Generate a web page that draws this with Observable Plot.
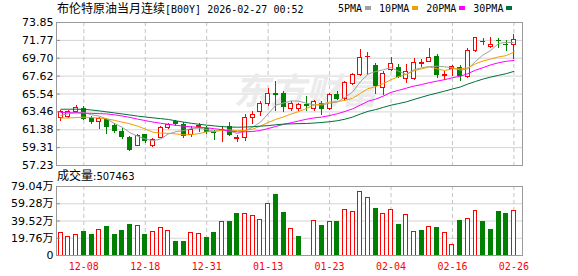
<!DOCTYPE html>
<html><head><meta charset="utf-8">
<script src="https://cdn.jsdelivr.net/npm/d3@7"></script>
<script src="https://cdn.jsdelivr.net/npm/@observablehq/plot@0.6"></script>
<style>
body{margin:0;background:#fff}
#wrap{position:relative;width:578px;height:276px;overflow:hidden;background:#fff;color:#000}
.abs{position:absolute;white-space:nowrap}
.sw{display:inline-block;width:6px;height:4px;margin-left:3px;margin-right:8px;vertical-align:2px}
</style></head>
<body>
<div id="wrap">
  <div id="price" class="abs" style="left:0;top:0"></div>
  <div id="vol" class="abs" style="left:0;top:170px"></div>
  <div class="abs" style="left:57px;top:0;line-height:15px;font-size:12px"><span style="font-family:'Noto Sans CJK SC'">布伦特原油当月连续</span><span style="font-family:'DejaVu Sans Mono';font-size:10px">[B00Y] 2026-02-27 00:52</span></div>
  <div id="legend" class="abs" style="left:338px;top:1px;line-height:16px;font-family:'DejaVu Sans Mono';font-size:10px"></div>
  <div class="abs" style="left:57px;top:167px;line-height:16px;font-size:12px"><span style="font-family:'Noto Sans CJK SC'">成交量</span><span style="font-family:'DejaVu Sans';font-size:10px">:507463</span></div>
</div>
<script>
const dates = ["12-03","12-04","12-05","12-08","12-09","12-10","12-11","12-12","12-15","12-16","12-17","12-18","12-19","12-22","12-23","12-24","12-26","12-29","12-30","12-31","01-02","01-05","01-06","01-07","01-08","01-09","01-12","01-13","01-14","01-15","01-16","01-19","01-20","01-21","01-22","01-23","01-26","01-27","01-28","01-29","01-30","02-02","02-03","02-04","02-05","02-06","02-09","02-10","02-11","02-12","02-13","02-16","02-17","02-18","02-19","02-20","02-23","02-24","02-25","02-26"];
const open  = [62.74,62.86,63.39,63.81,62.67,62.25,62.55,61.79,61.18,60.45,59.50,60.72,59.54,60.45,61.56,62.25,61.98,60.76,61.75,61.48,61.10,61.22,61.71,60.27,60.45,62.71,63.50,64.34,65.52,65.49,63.85,63.77,64.30,63.77,64.43,63.77,65.40,64.93,66.75,67.71,69.80,68.80,66.24,68.29,68.60,67.33,67.33,69.00,69.26,69.84,67.60,68.41,68.56,67.52,70.53,71.60,71.03,71.70,71.27,71.25];
const high  = [63.62,63.58,64.15,64.08,62.90,62.82,62.70,62.06,61.48,60.65,60.80,60.84,60.34,61.79,62.10,62.44,62.25,61.79,62.06,61.79,61.29,61.79,62.25,60.72,63.12,63.50,64.65,66.17,66.94,65.79,64.70,64.40,65.30,64.81,64.70,65.60,65.78,67.00,67.90,70.73,70.42,69.07,68.10,69.84,68.95,68.95,69.65,69.50,70.88,70.11,68.20,68.87,68.80,70.80,72.16,71.96,72.16,71.96,71.77,72.50];
const low   = [62.36,62.75,63.31,62.48,62.00,61.41,60.84,60.95,60.27,58.82,59.39,59.73,59.27,60.34,61.41,61.79,60.34,60.45,61.10,60.84,60.18,59.88,60.57,59.96,60.07,61.98,62.94,64.08,63.50,63.39,63.55,63.54,63.54,63.54,63.07,63.65,64.81,64.70,66.50,67.52,67.71,65.47,65.40,68.10,67.33,66.75,67.13,68.60,69.18,67.33,67.13,67.52,66.94,67.33,70.42,71.19,70.80,70.80,70.50,69.60];
const close = [63.39,63.43,63.89,62.67,62.25,62.67,61.67,61.29,60.53,59.04,60.65,60.07,60.19,61.60,61.94,62.06,60.65,61.41,61.83,61.10,61.02,61.41,60.72,60.45,62.75,63.12,64.38,65.49,65.45,64.00,64.40,64.23,64.20,64.62,63.85,65.47,64.93,66.86,67.79,69.76,69.88,66.48,67.90,69.07,67.52,68.10,69.18,69.10,69.76,67.71,67.75,68.68,67.64,70.50,72.08,71.54,71.27,71.65,71.20,71.85];
// volume in 万
const volume = [25.96,21.0,23.3,27.1,23.7,29.0,32.8,23.7,28.3,35.1,33.6,23.7,26.7,31.3,27.9,15.7,15.7,26.0,24.8,20.2,26.0,38.2,38.6,47.0,47.7,45.1,40.9,58.8,69.5,48.9,30.5,21.4,0,39.7,34.0,38.2,38.6,51.9,49.6,72.5,65.7,53.5,47.3,51.9,35.1,46.6,26.7,28.3,32.5,31.7,26.0,11.8,39.7,41.6,50.8,38.6,29.4,50.0,47.0,50.75];
const volUp = [1,1,1,0,0,1,0,0,0,0,1,0,1,1,1,0,0,1,1,0,0,1,0,0,1,1,1,1,0,0,1,0,0,1,0,1,0,1,1,1,1,0,1,1,0,1,1,0,1,0,1,1,0,1,1,0,0,0,0,1];
const ma5  = [63.05,63.25,63.40,63.38,63.13,62.98,62.63,62.11,61.68,61.04,60.64,60.32,60.10,60.31,60.89,61.17,61.29,61.53,61.58,61.41,61.20,61.35,61.22,60.94,61.27,61.69,62.28,63.24,64.24,64.49,64.74,64.71,64.46,64.29,64.26,64.47,64.61,65.15,65.78,66.96,67.84,68.15,68.36,68.62,68.17,67.81,68.35,68.59,68.73,68.77,68.70,68.60,68.31,68.46,69.33,70.09,70.61,71.41,71.55,71.50];
const ma10 = [62.75,62.75,62.80,62.85,62.80,62.75,62.65,62.48,62.27,62.08,61.81,61.47,61.10,61.00,60.97,60.90,60.80,60.81,60.94,61.15,61.19,61.32,61.37,61.26,61.34,61.45,61.82,62.23,62.59,62.88,63.22,63.50,63.85,64.26,64.37,64.61,64.66,64.80,65.04,65.61,66.16,66.38,66.75,67.20,67.57,67.83,68.25,68.48,68.68,68.47,68.26,68.48,68.45,68.59,69.05,69.39,69.60,69.86,70.00,70.42];
const ma20 = [63.39,63.36,63.34,63.31,63.29,63.26,63.22,63.12,62.98,62.82,62.62,62.45,62.28,62.14,62.02,61.90,61.80,61.72,61.66,61.62,61.50,61.40,61.24,61.13,61.15,61.18,61.31,61.52,61.77,62.01,62.20,62.41,62.61,62.76,62.86,63.03,63.24,63.51,63.81,64.25,64.69,64.94,65.30,65.73,65.97,66.22,66.46,66.64,66.86,67.04,67.21,67.43,67.60,67.90,68.31,68.61,68.93,69.17,69.34,69.44];
const ma30 = [63.77,63.77,63.77,63.76,63.68,63.58,63.46,63.34,63.22,63.10,62.97,62.87,62.77,62.68,62.58,62.42,62.27,62.13,62.02,61.92,61.83,61.75,61.70,61.68,61.70,61.74,61.80,61.87,61.96,62.04,62.07,62.10,62.11,62.17,62.23,62.32,62.43,62.61,62.86,63.21,63.52,63.73,63.99,64.24,64.43,64.63,64.91,65.17,65.43,65.65,65.88,66.12,66.35,66.69,67.00,67.28,67.51,67.71,67.90,68.17];
const priceTicks = [57.23,59.31,61.38,63.46,65.54,67.62,69.70,71.77,73.85];
const volTicks = [0,19.76,39.52,59.28,79.04];
const volTickLabels = ["0","19.76万","39.52万","59.28万","79.04万"];
const dateTicks = ["12-08","12-18","12-31","01-13","01-23","02-04","02-16","02-26"];
const maNames = ["5PMA","10PMA","20PMA","30PMA"];
const maColors = ["#a0a0a0","#f0a000","#ff00ff","#00703c"];

const RED = "#ff0000", GREEN = "#008000", GRID = "#d4d4d4", BORDER = "#9a9a9a";
const xDomain = [-0.56, 60.12];
const rows = dates.map((d, i) => ({i, d, o: open[i], h: high[i], l: low[i], c: close[i], v: volume[i], vu: volUp[i] === 1, up: close[i] >= open[i]}));
const tickIdx = dateTicks.map(t => dates.indexOf(t));
const maSeries = [ma5, ma10, ma20, ma30];
const hw = 0.26;

const common = {
  width: 578, marginLeft: 56, marginRight: 56,
  style: {fontFamily: "'DejaVu Sans','Noto Sans CJK SC',sans-serif", fontSize: "11px", color: "#000", background: "transparent", overflow: "visible"}
};

const price = Plot.plot({
  ...common, height: 170, marginTop: 22, marginBottom: 5,
  x: {type: "linear", domain: xDomain, axis: null},
  y: {domain: [priceTicks[0], priceTicks[priceTicks.length - 1]], axis: null},
  marks: [
    Plot.ruleY(priceTicks.slice(1, -1), {stroke: GRID}),
    Plot.ruleX(tickIdx, {stroke: "#c4c4c4", strokeDasharray: "4,3"}),
    Plot.text(["东方财富"], {frameAnchor: "middle", dx: 16, dy: -2, fontSize: 36, fill: "#ebebeb", fontWeight: "bold", fontStyle: "italic", fontFamily: "Noto Sans CJK SC"}),
    Plot.ruleX(rows, {filter: d => d.up, x: "i", y1: "l", y2: "h", stroke: RED, shapeRendering: "crispEdges"}),
    Plot.ruleX(rows, {filter: d => !d.up, x: "i", y1: "l", y2: "h", stroke: GREEN, shapeRendering: "crispEdges"}),
    Plot.rect(rows, {filter: d => d.up, x1: d => d.i - hw, x2: d => d.i + hw, y1: "o", y2: "c", fill: "#fff", stroke: RED, shapeRendering: "crispEdges"}),
    Plot.rect(rows, {filter: d => !d.up, x1: d => d.i - hw, x2: d => d.i + hw, y1: "o", y2: "c", fill: GREEN, stroke: GREEN, shapeRendering: "crispEdges"}),
    ...maSeries.map((s, k) => Plot.line(rows, {x: "i", y: d => s[d.i], stroke: maColors[k], strokeWidth: 1})),
    Plot.ruleY(priceTicks, {x1: xDomain[0], x2: xDomain[0] + 0.5, stroke: "#888"}),
    Plot.frame({stroke: BORDER}),
    Plot.axisY(priceTicks, {anchor: "left", label: null, tickSize: 0, tickPadding: 3, tickFormat: d => d.toFixed(2), fill: "#000"})
  ]
});
document.getElementById("price").append(price);

const vol = Plot.plot({
  ...common, height: 106, marginTop: 16, marginBottom: 21,
  x: {type: "linear", domain: xDomain, axis: null},
  y: {domain: [volTicks[0], volTicks[volTicks.length - 1]], axis: null},
  marks: [
    Plot.ruleY(volTicks.slice(1, -1), {stroke: GRID}),
    Plot.ruleX(tickIdx, {stroke: "#c4c4c4", strokeDasharray: "4,3"}),
    Plot.rect(rows, {filter: d => d.vu && d.v > 0, x1: d => d.i - hw, x2: d => d.i + hw, y1: 0, y2: "v", fill: "#fff", stroke: RED, shapeRendering: "crispEdges"}),
    Plot.rect(rows, {filter: d => !d.vu && d.v > 0, x1: d => d.i - hw, x2: d => d.i + hw, y1: 0, y2: "v", fill: GREEN, stroke: GREEN, shapeRendering: "crispEdges"}),
    Plot.ruleY(volTicks, {x1: xDomain[0], x2: xDomain[0] + 0.5, stroke: "#888"}),
    Plot.frame({stroke: BORDER}),
    Plot.axisY(volTicks, {anchor: "left", label: null, tickSize: 0, tickPadding: 3, tickFormat: d => volTickLabels[volTicks.indexOf(d)], fill: "#000"}),
    Plot.axisX(tickIdx, {anchor: "bottom", label: null, tickSize: 0, tickPadding: 7, tickFormat: i => dates[i], fill: RED, fontFamily: "DejaVu Sans Mono", fontSize: 10})
  ]
});
document.getElementById("vol").append(vol);

const legend = document.getElementById("legend");
maNames.forEach((n, k) => {
  const t = document.createElement("span"); t.textContent = n; legend.append(t);
  const s = document.createElement("span"); s.className = "sw"; s.style.background = maColors[k]; legend.append(s);
});
</script>
</body></html>
